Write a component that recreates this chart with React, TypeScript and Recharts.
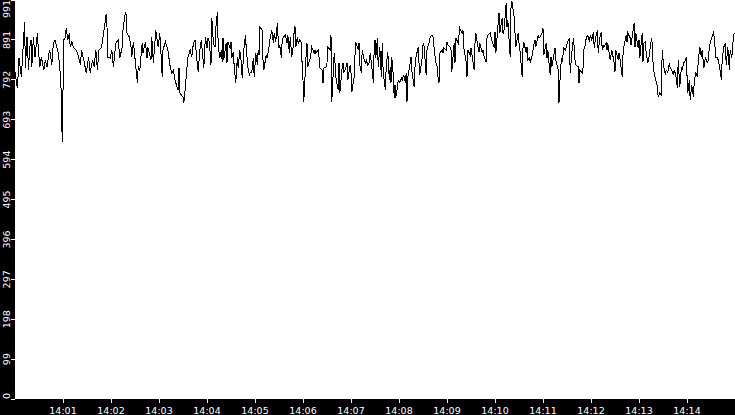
import React from "react";
import { LineChart, Line, XAxis, YAxis, CartesianGrid } from "recharts";

// seconds after 14:00:00
const seconds: number[] = [
  0, 3, 5, 8, 9, 12, 13, 15, 17, 18,
  20, 21, 23, 25, 28, 29, 31, 33, 36, 38,
  40, 43, 44, 46, 48, 50, 53, 54, 56, 58,
  59, 61, 63, 64, 66, 68, 69, 71, 73, 76,
  78, 82, 83, 86, 89, 92, 94, 97, 99, 101,
  103, 105, 108,
  111, 114, 115, 116, 119, 121, 123, 126, 129, 131,
  134, 135, 138, 139, 140, 143, 145, 146, 148, 153,
  154, 156, 159, 160, 163, 165, 166, 170, 171, 173,
  176, 179, 181, 183, 184, 185, 188, 191, 194, 196,
  198, 200, 201, 204, 205, 206, 210, 211, 213, 215,
  216, 219, 221, 223, 225,
  228, 229, 231, 233, 234, 236, 238, 240, 241, 243,
  245, 246, 248, 250, 251, 253, 254, 256, 258, 259,
  260, 261, 264, 265, 266, 269, 270, 271, 273, 274,
  276, 278, 279, 281, 283, 284, 286, 288, 289, 291,
  293, 294, 296, 298, 299, 301, 303, 304, 305, 306,
  309, 310, 311, 314, 315, 318, 319, 321, 323, 324,
  326, 328, 329, 330, 331, 333, 334, 335, 338,
  340, 341, 343, 344, 346, 348, 349, 350, 351, 353,
  354, 356, 358, 359, 360, 361, 364, 365, 366, 369,
  370, 371, 374, 375, 376, 379, 380, 381, 384, 385,
  386, 389, 390, 391, 394, 395, 396, 399, 400, 401,
  404, 405, 406, 409, 410, 411, 414, 415, 416, 419,
  420, 421, 424, 425, 426, 429, 430, 431, 433, 434,
  436, 438, 439, 441, 443, 444, 446, 448, 449,
  450, 451, 453, 454, 456, 458, 459, 460, 461, 463,
  464, 466, 468, 469, 470, 471, 473, 474, 475, 476,
  478, 479, 481, 483, 484, 486, 488, 489, 490, 491,
  494, 495, 496, 499, 500, 501, 504, 505, 506, 509,
  510, 511, 514, 515, 516, 518, 519, 521, 523, 524,
  526, 528, 529, 530, 531, 534, 535, 536, 539, 540,
  541, 544, 545, 546, 549, 550, 551, 554, 555, 556,
  559, 560, 561,
  563, 564, 565, 566, 569, 570, 571, 574, 575, 576,
  579, 580, 581, 584, 585, 586, 589, 590, 591, 594,
  595, 596, 599, 600, 601, 604, 605, 606, 609, 610,
  611, 614, 615, 616, 619, 620, 621, 624, 625, 626,
  629, 630, 631, 634, 635, 636, 639, 640, 641, 643,
  644, 646, 649, 650, 651, 654, 655, 656, 659, 660,
  661, 664, 665, 666, 669, 670, 671, 674, 675,
  676, 679, 680, 681, 683, 684, 686, 688, 689, 691,
  693, 694, 696, 698, 699, 700, 701, 704, 705, 706,
  709, 710, 711, 713, 714, 716, 718, 719, 721, 723,
  724, 726, 728, 729, 731, 733, 734, 735, 736, 739,
  740, 741, 744, 745, 746, 749, 750, 751, 754, 755,
  756, 759, 760, 761, 764, 765, 766, 769, 770, 771,
  774, 775, 776, 779, 780, 781, 784, 785, 786, 788,
  789, 791, 793, 794, 796, 798, 799, 801, 803, 804,
  806, 808, 809, 811, 813, 814, 816, 818, 819, 821,
  823, 824, 826, 828, 829, 831, 833, 834, 836, 838,
  839, 841, 843, 844, 846, 848, 849, 851, 853, 854,
  856, 858, 859, 861, 863, 864, 866, 868, 869, 871,
  873, 874, 876, 878, 879, 881, 883, 884, 886, 888,
  889, 891, 893, 894, 896, 898, 899,
];

const readings: number[] = [
  812, 772, 847, 800, 835, 936, 822, 899, 817, 867,
  892, 825, 899, 849, 909, 874, 825, 849, 817, 842,
  825, 867, 859, 830, 884, 892, 867, 859, 825, 755,
  638, 892, 899, 921, 892, 909, 874, 887, 874, 867,
  859, 830, 867, 842, 810, 849, 810, 842, 825, 867,
  817, 867, 872,
  912, 956, 924, 849, 847, 867, 825, 884, 892, 847,
  874, 916, 961, 954, 909, 899, 874, 849, 887, 785,
  825, 817, 884, 859, 887, 847, 874, 842, 899, 835,
  916, 874, 909, 842, 800, 867, 887, 867, 825, 810,
  817, 792, 785, 767, 822, 760, 750, 735, 775, 825,
  847, 867, 849, 884, 892,
  830, 812, 867, 892, 867, 822, 899, 872, 897, 887,
  830, 946, 884, 874, 921, 961, 879, 847, 867, 837,
  897, 842, 884, 835, 887, 872, 887, 847, 862, 825,
  785, 849, 822, 867, 835, 797, 867, 904, 874, 825,
  805, 810, 812, 847, 800, 859, 830, 867, 854, 924,
  916, 842, 817, 854, 847, 879, 899, 916, 884, 909,
  887, 934, 892, 872, 879, 847, 892, 897, 904,
  884, 904, 859, 899, 849, 879, 916, 926, 874, 899,
  884, 892, 884, 825, 792, 738, 859, 884, 825, 847,
  859, 874, 859, 867, 859, 867, 849, 822, 817, 785,
  822, 825, 835, 874, 867, 904, 738, 859, 835, 800,
  767, 835, 760, 825, 835, 810, 825, 835, 792, 830,
  810, 762, 800, 854, 887, 867, 884, 830, 810, 867,
  847, 835, 842, 830, 837, 859, 825, 785, 874,
  892, 847, 897, 825, 874, 800, 884, 825, 800, 767,
  825, 862, 792, 825, 785, 849, 800, 748, 780, 748,
  775, 792, 785, 797, 792, 805, 785, 810, 738, 800,
  835, 849, 817, 775, 825, 847, 874, 835, 805, 849,
  879, 884, 805, 867, 874, 887, 899, 904, 897, 867,
  837, 825, 792, 785, 859, 867, 859, 872, 867, 887,
  879, 874, 867, 812, 884, 835, 897, 884, 904, 921,
  909, 916, 872,
  849, 837, 800, 867, 854, 872, 859, 817, 884, 909,
  872, 862, 884, 859, 867, 854, 837, 897, 904, 909,
  899, 892, 872, 912, 859, 934, 959, 909, 946, 909,
  909, 984, 924, 941, 849, 971, 989, 949, 909, 874,
  909, 884, 872, 800, 872, 887, 859, 874, 842, 847,
  837, 849, 884, 892, 874, 904, 897, 899, 909, 921,
  854, 884, 847, 867, 805, 849, 825, 859, 872,
  842, 817, 735, 785, 847, 837, 872, 867, 874, 887,
  897, 810, 859, 897, 874, 842, 830, 825, 785, 817,
  810, 822, 867, 879, 897, 904, 887, 904, 892, 912,
  872, 899, 916, 859, 897, 912, 867, 879, 874, 884,
  867, 884, 842, 854, 867, 835, 812, 867, 842, 859,
  849, 800, 854, 874, 904, 887, 909, 897, 879, 892,
  934, 874, 909, 872, 892, 847, 909, 837, 884, 887,
  859, 835, 854, 874, 897, 817, 810, 792, 775, 750,
  760, 755, 867, 825, 805, 817, 812, 835, 822, 817,
  805, 817, 805, 772, 842, 775, 825, 817, 835, 842,
  849, 760, 792, 743, 780, 750, 785, 812, 800, 837,
  874, 849, 867, 822, 847, 842, 835, 874, 884, 897,
  909, 899, 849, 847, 842, 822, 792, 842, 874, 884,
  830, 874, 817, 867, 847, 899, 909,
];

const xTicks: number[] = [60, 120, 180, 240, 300, 360, 420, 480, 540, 600, 660, 720, 780, 840];
const xTickLabels: string[] = [
  "14:01", "14:02", "14:03", "14:04", "14:05", "14:06", "14:07",
  "14:08", "14:09", "14:10", "14:11", "14:12", "14:13", "14:14",
];
const yMax = 991;
const yTicks: number[] = [0, 99.1, 198.2, 297.3, 396.4, 495.5, 594.6, 693.7, 792.8, 891.9, 991];
const yTickLabels: string[] = ["0", "99", "198", "297", "396", "495", "594", "693", "792", "891", "991"];

const data = seconds.map((t, i) => ({ t, v: readings[i] }));

const W = 735;
const H = 415;
const Y_AXIS_W = 15;
const X_AXIS_H = 16;
const PLOT_BOTTOM = H - X_AXIS_H;
const FONT = "'DejaVu Sans', Verdana, sans-serif";
const FS = 9.5;

const YTick = (props: any) => {
  const { y, index } = props;
  const label = yTickLabels[index] ?? "";
  const half = label.length * 3;
  const cy = Math.min(Math.max(y, half), PLOT_BOTTOM - half);
  const bx = Y_AXIS_W - 5;
  return (
    <text
      x={bx}
      y={cy}
      transform={`rotate(-90 ${bx} ${cy})`}
      textAnchor="middle"
      fill="#fff"
      fontSize={FS}
      fontFamily={FONT}
    >
      {label}
    </text>
  );
};

const XTick = (props: any) => {
  const { x, index } = props;
  return (
    <text x={x} y={H - 1} textAnchor="middle" fill="#fff" fontSize={FS} fontFamily={FONT}>
      {xTickLabels[index] ?? ""}
    </text>
  );
};

export default function App() {
  return (
    <div style={{ width: W, height: H, background: "#000" }}>
      <style>{"body{margin:0;}"}</style>
      <LineChart width={W} height={H} data={data} margin={{ top: 0, right: 0, bottom: 0, left: 0 }}>
        <CartesianGrid fill="#fff" stroke="none" horizontal={false} vertical={false} />
        <XAxis
          dataKey="t"
          type="number"
          domain={[0, 900]}
          ticks={xTicks}
          height={X_AXIS_H}
          axisLine={false}
          tickSize={4}
          tickLine={{ stroke: "#fff", shapeRendering: "crispEdges" }}
          tick={<XTick />}
          interval={0}
          allowDataOverflow
        />
        <YAxis
          type="number"
          domain={[0, yMax]}
          ticks={yTicks}
          width={Y_AXIS_W}
          axisLine={false}
          tickSize={4}
          tickLine={{ stroke: "#fff", shapeRendering: "crispEdges" }}
          tick={<YTick />}
          interval={0}
          allowDataOverflow
        />
        <Line
          type="linear"
          dataKey="v"
          stroke="#000"
          strokeWidth={1}
          dot={false}
          isAnimationActive={false}
          shapeRendering="crispEdges"
        />
      </LineChart>
    </div>
  );
}
